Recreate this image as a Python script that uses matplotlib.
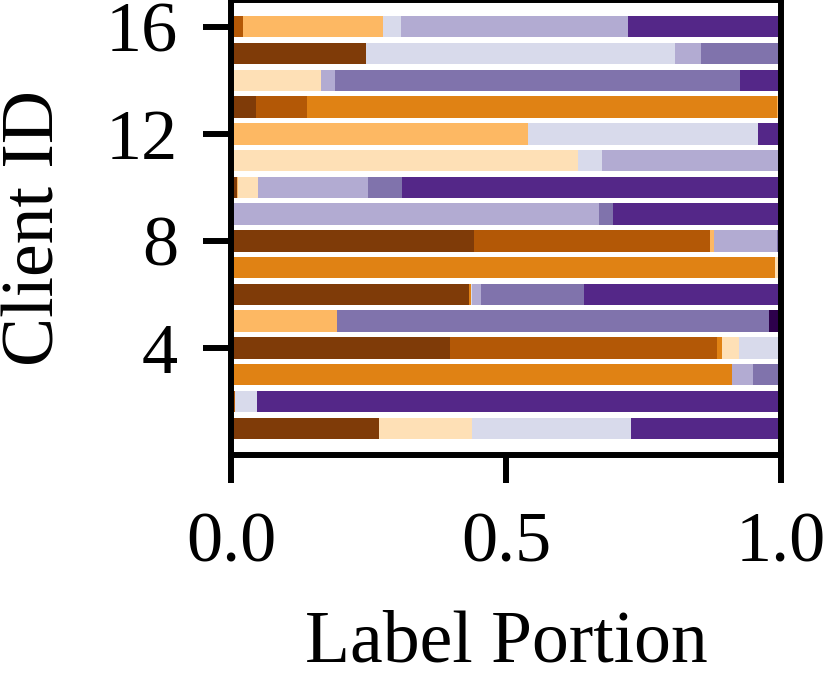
import numpy as np
import matplotlib.pyplot as plt

plt.rcParams['font.family'] = ['Liberation Serif', 'DejaVu Serif']

client_ids = np.arange(1, 17)

# portion of each label for clients 1..16
label_0 = [0.270, 0, 0, 0.398, 0, 0.433, 0, 0.442, 0, 0.011, 0, 0, 0.046, 0, 0.246, 0]
label_1 = [0, 0.007, 0, 0.486, 0, 0, 0, 0.429, 0, 0, 0, 0, 0.093, 0, 0, 0.021]
label_2 = [0, 0, 0.911, 0.009, 0, 0.004, 0.989, 0, 0, 0, 0, 0, 0.854, 0, 0, 0]
label_3 = [0, 0, 0, 0, 0.193, 0, 0, 0.007, 0, 0.002, 0, 0.540, 0.007, 0, 0, 0.255]
label_4 = [0.168, 0, 0, 0.030, 0, 0, 0.011, 0, 0, 0.036, 0.631, 0, 0, 0.163, 0, 0]
label_5 = [0.290, 0.040, 0, 0.077, 0, 0.002, 0, 0, 0, 0, 0.043, 0.419, 0, 0, 0.561, 0.033]
label_6 = [0, 0, 0.038, 0, 0, 0.016, 0, 0.114, 0.669, 0.201, 0.326, 0, 0, 0.027, 0.047, 0.412]
label_7 = [0, 0, 0.051, 0, 0.785, 0.187, 0, 0.008, 0.026, 0.061, 0, 0, 0, 0.736, 0.146, 0]
label_8 = [0.272, 0.953, 0, 0, 0, 0.358, 0, 0, 0.305, 0.689, 0, 0.041, 0, 0.074, 0, 0.279]
label_9 = [0, 0, 0, 0, 0.022, 0, 0, 0, 0, 0, 0, 0, 0, 0, 0, 0]

labels = [label_0, label_1, label_2, label_3, label_4,
          label_5, label_6, label_7, label_8, label_9]
colors = ['#7f3b08', '#b35806', '#e08214', '#fdb863', '#fee0b6',
          '#d8daeb', '#b2abd2', '#8073ac', '#542788', '#2d004b']

fig = plt.figure(figsize=(8.28, 6.81), dpi=100)
ax = fig.add_axes([231 / 828, 1 - 455 / 681, 550 / 828, 455 / 681])

left = np.zeros(len(client_ids))
for portion, c in zip(labels, colors):
    portion = np.array(portion)
    ax.barh(client_ids, portion, left=left, height=0.8, color=c, linewidth=0)
    left += portion

ax.set_xlim(0, 1)
ax.set_ylim(0, 17)
ax.set_xticks([0, 0.5, 1.0])
ax.set_xticklabels(['0.0', '0.5', '1.0'])
ax.set_yticks([4, 8, 12, 16])

for s in ax.spines.values():
    s.set_linewidth(4.3)
ax.tick_params(axis='both', labelsize=52, length=20, width=4.3)
ax.tick_params(axis='x', pad=21)
ax.tick_params(axis='y', pad=18)

ax.set_xlabel('Label Portion', fontsize=53, labelpad=24)
ax.set_ylabel('Client ID', fontsize=53, labelpad=26)

fig.savefig('out.png', dpi=100)
